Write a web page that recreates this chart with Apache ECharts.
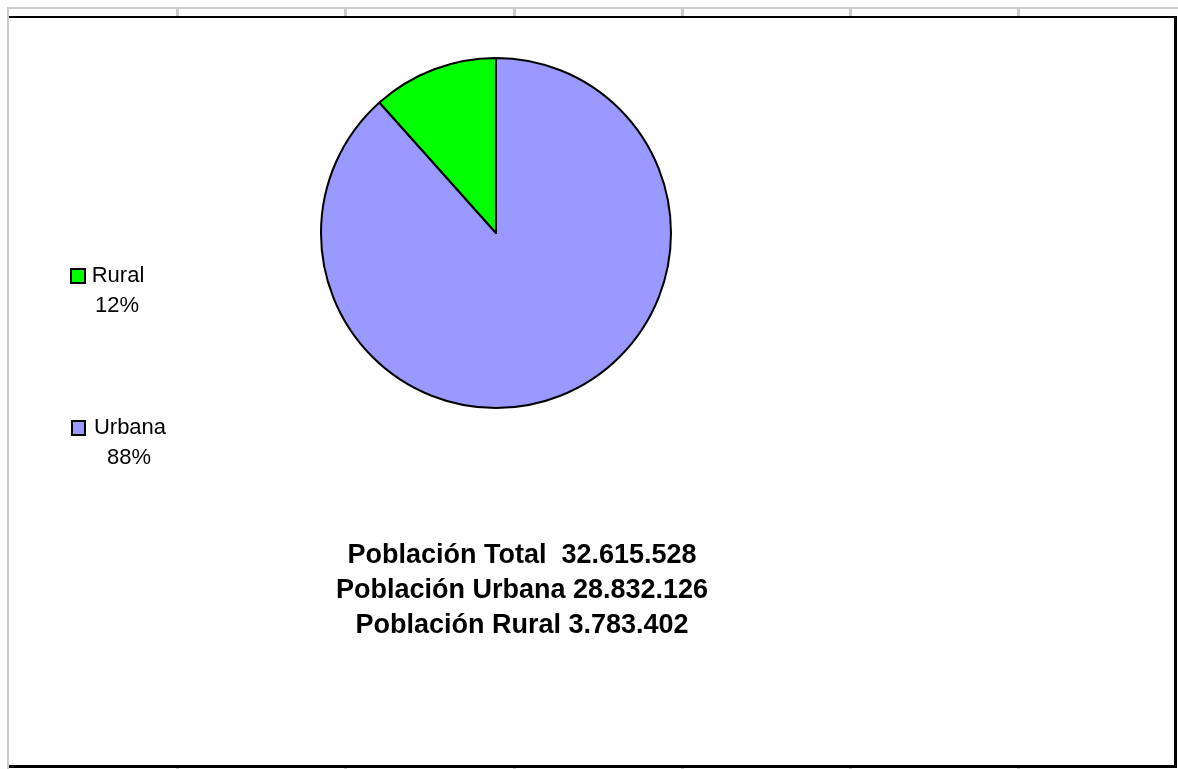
<!DOCTYPE html>
<html>
<head>
<meta charset="utf-8">
<script src="https://cdn.jsdelivr.net/npm/echarts@6/dist/echarts.min.js"></script>
<style>html,body{margin:0;padding:0;background:#fff;}#c{width:1178px;height:769px;}</style>
</head>
<body>
<div id="c"></div>
<script>
// Data
const categories = ['Urbana', 'Rural'];
const values = [28832126, 3783402];
const colors = ['#9999FF', '#00FF00'];
const totalLabel = 'Población Total';
const summaryNames = ['Población Urbana', 'Población Rural'];
const columnTicks = [177, 345, 514, 682, 850, 1018];

function fmt(n) { return String(n).replace(/\B(?=(\d{3})+(?!\d))/g, '.'); }
const total = values.reduce((a, b) => a + b, 0);

const chart = echarts.init(document.getElementById('c'), null, { renderer: 'canvas' });

const FONT = '"Liberation Sans", Arial, sans-serif';
const graphics = [];
// spreadsheet gridlines outside the chart frame
graphics.push({ type: 'rect', shape: { x: 7, y: 7, width: 1171, height: 2 }, style: { fill: '#cccccc' }, silent: true });
graphics.push({ type: 'rect', shape: { x: 7, y: 7, width: 2, height: 762 }, style: { fill: '#cccccc' }, silent: true });
columnTicks.forEach(x => {
  graphics.push({ type: 'rect', shape: { x: x - 1, y: 9, width: 3, height: 7 }, style: { fill: '#cccccc' }, silent: true });
  graphics.push({ type: 'rect', shape: { x: x - 1, y: 768, width: 3, height: 1 }, style: { fill: '#cccccc' }, silent: true });
});
// chart frame (black)
graphics.push({ type: 'rect', shape: { x: 9, y: 16, width: 1167, height: 2 }, style: { fill: '#000' }, silent: true });
graphics.push({ type: 'rect', shape: { x: 1174, y: 16, width: 3, height: 752 }, style: { fill: '#000' }, silent: true });
graphics.push({ type: 'rect', shape: { x: 9, y: 765, width: 1168, height: 3 }, style: { fill: '#000' }, silent: true });

// data labels (legend-like boxes at left)
const labelPos = { 'Rural': { cx: 118, y: 276 }, 'Urbana': { cx: 130, y: 428 } };
categories.forEach((name, i) => {
  const p = labelPos[name];
  const pct = Math.round(values[i] / total * 100) + '%';
  graphics.push({ type: 'text', style: { text: name, x: p.cx, y: p.y, font: '22px ' + FONT, fill: '#000', textAlign: 'center', textVerticalAlign: 'middle' }, silent: true });
  graphics.push({ type: 'text', style: { text: pct, x: p.cx - 1, y: p.y + 30, font: '22px ' + FONT, fill: '#000', textAlign: 'center', textVerticalAlign: 'middle' }, silent: true });
});
graphics.push({ type: 'rect', shape: { x: 71, y: 269, width: 14, height: 14 }, style: { fill: colors[1], stroke: '#000', lineWidth: 2 }, silent: true });
graphics.push({ type: 'rect', shape: { x: 72, y: 421, width: 13, height: 14 }, style: { fill: colors[0], stroke: '#000', lineWidth: 2 }, silent: true });

// summary text
const lines = [
  totalLabel + '  ' + fmt(total),
  summaryNames[0] + ' ' + fmt(values[0]),
  summaryNames[1] + ' ' + fmt(values[1])
];
lines.forEach((t, i) => {
  graphics.push({ type: 'text', style: { text: t, x: 522, y: 556 + i * 35, font: 'bold 27px ' + FONT, fill: '#000', textAlign: 'center', textVerticalAlign: 'middle' }, silent: true });
});

chart.setOption({
  backgroundColor: '#ffffff',
  animation: false,
  graphic: { elements: graphics },
  series: [{
    type: 'pie',
    center: [496, 233],
    radius: 175,
    startAngle: 90,
    clockwise: true,
    label: { show: false },
    labelLine: { show: false },
    emphasis: { disabled: true },
    itemStyle: { borderColor: '#000', borderWidth: 2 },
    data: categories.map((c, i) => ({ name: c, value: values[i], itemStyle: { color: colors[i] } }))
  }]
});
</script>
</body>
</html>
